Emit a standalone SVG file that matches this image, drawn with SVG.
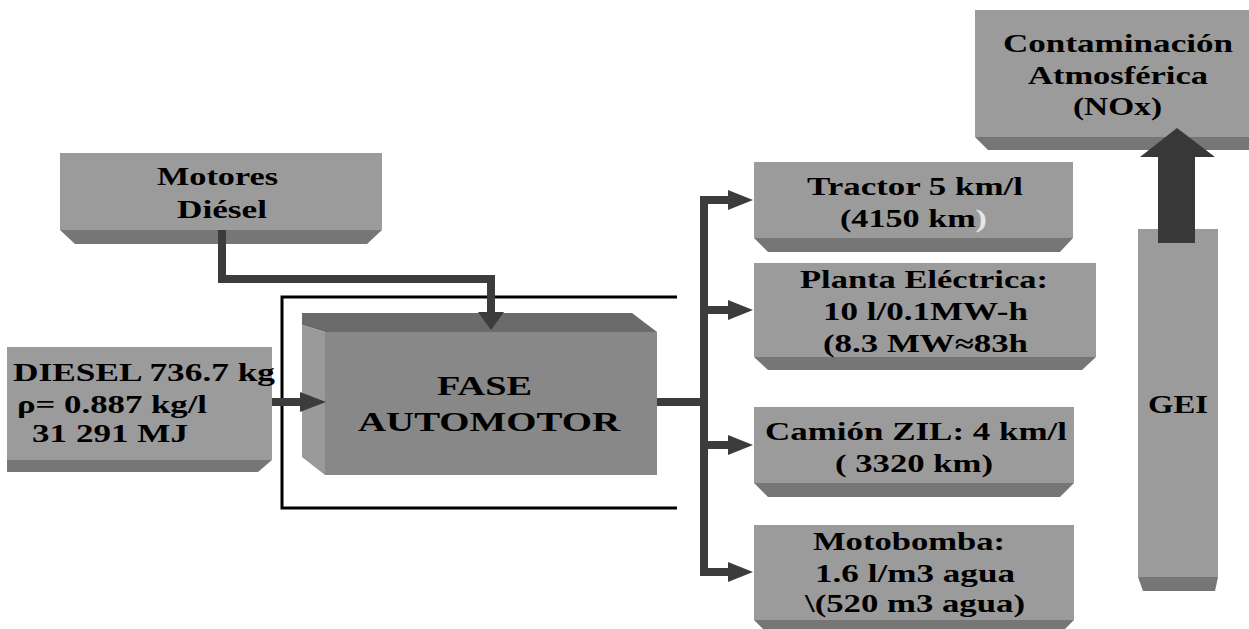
<svg xmlns="http://www.w3.org/2000/svg" width="1249" height="629" viewBox="0 0 1249 629">
<style>
.face{fill:#9b9b9b;}
.bev{fill:#767676;}
.ftop{fill:#6b6b6b;}
.fleft{fill:#9a9a9a;}
.ffront{fill:#888888;}
.t{font-family:"Liberation Serif","Times New Roman",serif;font-weight:bold;font-size:25px;fill:#000;}
.tf{font-size:27px;}
.wire{fill:none;stroke:#3c3c3c;stroke-width:8;stroke-linejoin:miter;}
.head{fill:#3c3c3c;}
.loop{fill:none;stroke:#000;stroke-width:3;}
</style>
<rect width="1249" height="629" fill="#ffffff"/>

<g id="motores">
<rect class="face" x="60" y="153" width="322" height="77"/>
<polygon class="bev" points="60,230 382,230 367,244 75,244"/>
<text class="t" x="157" y="185" textLength="121" lengthAdjust="spacingAndGlyphs">Motores</text>
<text class="t" x="177" y="218" textLength="90" lengthAdjust="spacingAndGlyphs">Diésel</text>
</g>

<g id="diesel">
<rect class="face" x="7" y="347" width="265" height="113"/>
<polygon class="bev" points="7,460 272,460 258,472 7,472"/>
<text class="t" x="13" y="381" textLength="262" lengthAdjust="spacingAndGlyphs">DIESEL 736.7 kg</text>
<text class="t" x="17" y="413" textLength="190" lengthAdjust="spacingAndGlyphs">ρ= 0.887 kg/l</text>
<text class="t" x="32" y="442" textLength="156" lengthAdjust="spacingAndGlyphs">31 291 MJ</text>
</g>

<g id="fase">
<polygon class="ftop" points="302,313 632,313 657,332 325,332 302,325"/>
<polygon class="fleft" points="302,325 325,332 325,475 302,457"/>
<rect class="ffront" x="325" y="332" width="332" height="143"/>
<text class="t tf" x="437" y="395" textLength="95" lengthAdjust="spacingAndGlyphs">FASE</text>
<text class="t tf" x="358" y="431" textLength="262" lengthAdjust="spacingAndGlyphs">AUTOMOTOR</text>
</g>

<g id="tractor">
<rect class="face" x="754" y="162" width="319" height="76"/>
<polygon class="bev" points="754,238 1073,238 1060,252 768,252"/>
<text class="t" x="807" y="195" textLength="216" lengthAdjust="spacingAndGlyphs">Tractor 5 km/l</text>
<text class="t" x="840" y="227" textLength="147" lengthAdjust="spacingAndGlyphs">(4150 km<tspan fill="#e6e6e6">)</tspan></text>
</g>

<g id="planta">
<rect class="face" x="754" y="263" width="342" height="94"/>
<polygon class="bev" points="754,357 1096,357 1082,370 768,370"/>
<text class="t" x="800" y="288" textLength="248" lengthAdjust="spacingAndGlyphs">Planta Eléctrica:</text>
<text class="t" x="823" y="320" textLength="205" lengthAdjust="spacingAndGlyphs">10 l/0.1MW-h</text>
<text class="t" x="823" y="352" textLength="205" lengthAdjust="spacingAndGlyphs">(8.3 MW≈83h</text>
</g>

<g id="camion">
<rect class="face" x="754" y="407" width="320" height="76"/>
<polygon class="bev" points="754,483 1074,483 1060,497 768,497"/>
<text class="t" x="765" y="440" textLength="302" lengthAdjust="spacingAndGlyphs">Camión ZIL: 4 km/l</text>
<text class="t" x="835" y="472" textLength="158" lengthAdjust="spacingAndGlyphs">( 3320 km)</text>
</g>

<g id="motobomba">
<rect class="face" x="754" y="525" width="320" height="95"/>
<polygon class="bev" points="754,620 1074,620 1060,634 768,634"/>
<text class="t" x="813" y="550" textLength="192" lengthAdjust="spacingAndGlyphs">Motobomba:</text>
<text class="t" x="815" y="582" textLength="200" lengthAdjust="spacingAndGlyphs">1.6 l/m3 agua</text>
<text class="t" x="805" y="612" textLength="220" lengthAdjust="spacingAndGlyphs">\(520 m3 agua)</text>
</g>

<g id="contaminacion">
<rect class="face" x="975" y="10" width="285" height="127"/>
<polygon class="bev" points="975,137 1260,137 1260,150 988,150"/>
<text class="t" x="1003" y="52" textLength="230" lengthAdjust="spacingAndGlyphs">Contaminación</text>
<text class="t" x="1028" y="84" textLength="180" lengthAdjust="spacingAndGlyphs">Atmosférica</text>
<text class="t" x="1073" y="115" textLength="89" lengthAdjust="spacingAndGlyphs">(NOx)</text>
</g>

<g id="gei">
<rect class="face" x="1138" y="229" width="80" height="348"/>
<polygon class="bev" points="1138,577 1218,577 1215,591 1143,591"/>
<text class="t" x="1148" y="413" textLength="60" lengthAdjust="spacingAndGlyphs">GEI</text>
</g>

<g id="connectors">
<polyline class="loop" points="677,297 282,297 282,508 677,508"/>
<polyline class="wire" points="222,230 222,279 491,279 491,314"/>
<polygon class="head" points="478,312 504,312 491,330"/>
<line class="wire" x1="272" y1="402" x2="302" y2="402"/>
<polygon class="head" points="300,392 326,402 300,412"/>
<line class="wire" x1="657" y1="402" x2="704" y2="402"/>
<line class="wire" x1="704" y1="196" x2="704" y2="576"/>
<line class="wire" x1="704" y1="200" x2="730" y2="200"/>
<polygon class="head" points="728,190 753,200 728,210"/>
<line class="wire" x1="704" y1="310" x2="730" y2="310"/>
<polygon class="head" points="728,300 753,310 728,320"/>
<line class="wire" x1="704" y1="445" x2="730" y2="445"/>
<polygon class="head" points="728,435 753,445 728,455"/>
<line class="wire" x1="700" y1="572" x2="730" y2="572"/>
<polygon class="head" points="728,562 753,572 728,582"/>
<polygon fill="#383838" points="1158,243 1195,243 1195,157 1215,157 1177,128 1140,157 1158,157"/>
</g>
</svg>
